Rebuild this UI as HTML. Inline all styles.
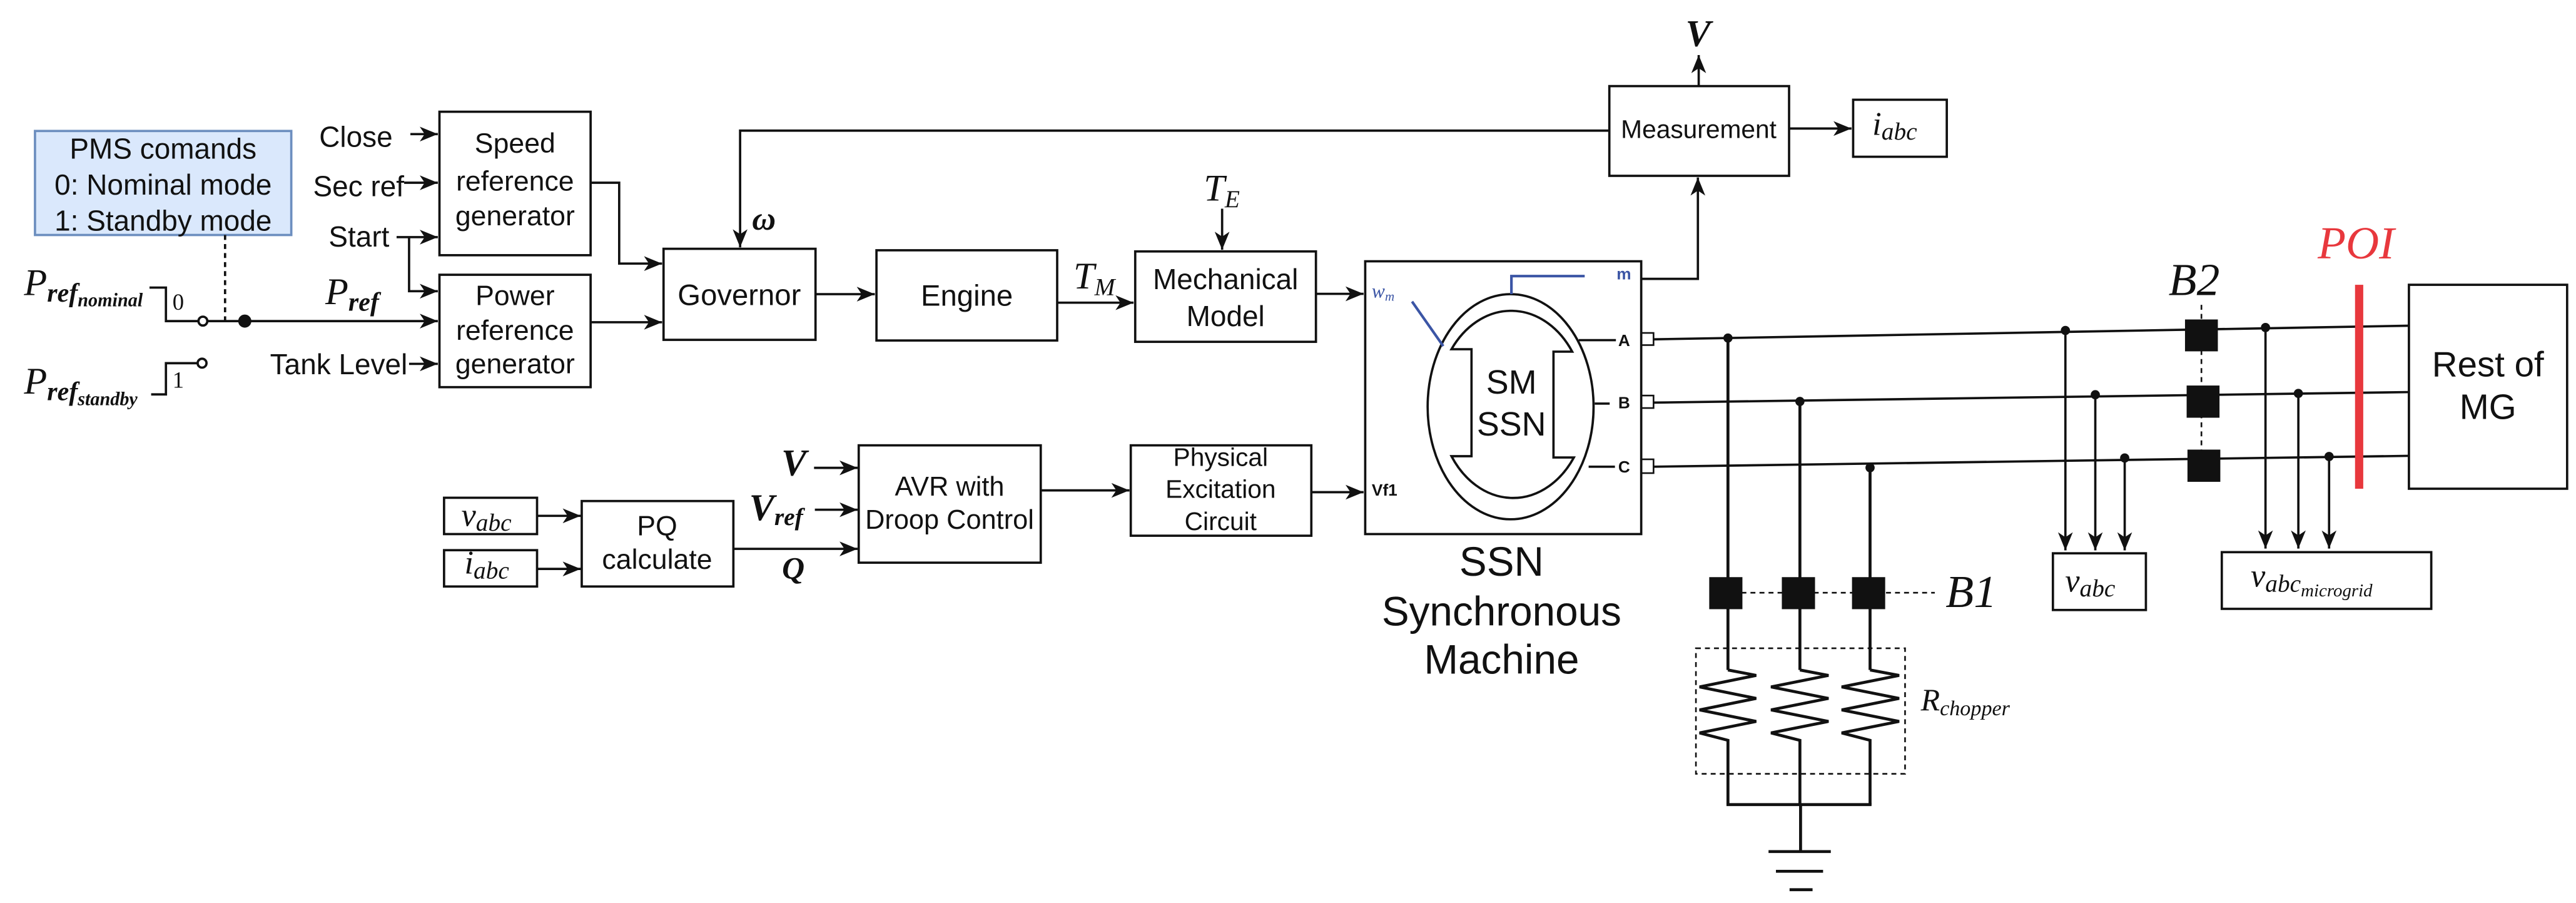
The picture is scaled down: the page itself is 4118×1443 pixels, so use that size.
<!DOCTYPE html>
<html><head><meta charset="utf-8"><style>
html,body{margin:0;padding:0;background:#fff;}
svg{display:block;}
.s{font-family:"Liberation Sans",sans-serif;fill:#111;}
.m{font-family:"Liberation Serif",serif;font-style:italic;fill:#111;}
</style></head><body>
<svg width="4118" height="1443" viewBox="0 0 1568 549.5" preserveAspectRatio="none" xmlns="http://www.w3.org/2000/svg">
<defs>
<marker id="a" markerUnits="userSpaceOnUse" markerWidth="11" markerHeight="9" refX="11" refY="4.5" orient="auto" viewBox="0 0 11 9">
<path d="M0,0 L11,4.5 L0,9 L3,4.5 Z" fill="#111"/></marker>
</defs>
<rect width="1568" height="549.5" fill="#fff"/>
<g stroke="#111" stroke-width="1.4" fill="none">
<rect x="21.3" y="79.7" width="156" height="63.3" fill="#dae8fc" stroke="#6c8ebf"/>
<line x1="137" y1="143" x2="137" y2="195.4" stroke-dasharray="3,2.5"/>
<polyline points="91,175 101,175 101,195.4 120.8,195.4"/>
<circle cx="123.5" cy="195.4" r="2.7" fill="#fff"/>
<line x1="126.2" y1="195.4" x2="266.5" y2="195.4" marker-end="url(#a)"/>
<circle cx="149" cy="195.4" r="3.3" fill="#111"/>
<polyline points="92,240 101,240 101,221 120.3,221"/>
<circle cx="123" cy="221" r="2.7" fill="#fff"/>
<line x1="249.8" y1="81.6" x2="266.5" y2="81.6" marker-end="url(#a)"/>
<line x1="246" y1="111.2" x2="266.5" y2="111.2" marker-end="url(#a)"/>
<line x1="241.4" y1="144.3" x2="266.5" y2="144.3" marker-end="url(#a)"/>
<polyline points="249,144.3 249,177.2 266.5,177.2" marker-end="url(#a)"/>
<line x1="249" y1="221.4" x2="266.5" y2="221.4" marker-end="url(#a)"/>
<rect x="267.5" y="68" width="92" height="87.3"/>
<rect x="267.5" y="167.2" width="92" height="68.4"/>
<polyline points="359.5,111.2 376.9,111.2 376.9,160.4 403,160.4" marker-end="url(#a)"/>
<line x1="359.5" y1="196.1" x2="403" y2="196.1" marker-end="url(#a)"/>
<rect x="403.9" y="151.4" width="92.5" height="55.4"/>
<polyline points="979.6,79.5 450.5,79.5 450.5,150.5" marker-end="url(#a)"/>
<line x1="496.4" y1="179" x2="532.5" y2="179" marker-end="url(#a)"/>
<rect x="533.5" y="152.3" width="110" height="54.9"/>
<line x1="643.5" y1="184.2" x2="690" y2="184.2" marker-end="url(#a)"/>
<rect x="691" y="153" width="110" height="55"/>
<line x1="743.9" y1="127" x2="743.9" y2="152" marker-end="url(#a)"/>
<line x1="801" y1="178.8" x2="830" y2="178.8" marker-end="url(#a)"/>
<rect x="270.3" y="302.9" width="56.6" height="22.1"/>
<rect x="270.3" y="334.8" width="56.6" height="22.1"/>
<line x1="326.9" y1="313.9" x2="353.5" y2="313.9" marker-end="url(#a)"/>
<line x1="326.9" y1="346.2" x2="353.5" y2="346.2" marker-end="url(#a)"/>
<rect x="354.1" y="304.9" width="92.3" height="52"/>
<line x1="446.4" y1="334" x2="522" y2="334" marker-end="url(#a)"/>
<line x1="495.5" y1="284.7" x2="522" y2="284.7" marker-end="url(#a)"/>
<line x1="496" y1="310.2" x2="522" y2="310.2" marker-end="url(#a)"/>
<rect x="522.7" y="271" width="110.8" height="71.4"/>
<line x1="633.5" y1="298.4" x2="687.5" y2="298.4" marker-end="url(#a)"/>
<rect x="688.3" y="271" width="109.9" height="55"/>
<line x1="798.2" y1="299.5" x2="830" y2="299.5" marker-end="url(#a)"/>
<rect x="831" y="159" width="168" height="166"/>
<ellipse cx="919.5" cy="247.5" rx="50.5" ry="68.5"/>
<path d="M883.5 212.5 A45 57 0 0 1 957 214 L945.6 214 L945.6 278.4 L958 278.4 A45 57 0 0 1 883.5 277.6 L895.7 277.6 L895.7 212.5 Z"/>
<line x1="961" y1="207" x2="983.6" y2="207"/>
<line x1="970.7" y1="245.6" x2="979.8" y2="245.6"/>
<line x1="967" y1="284" x2="983" y2="284"/>
<rect x="999" y="202.6" width="7.5" height="7.4" stroke-width="1"/>
<rect x="999" y="240.7" width="7.5" height="7.6" stroke-width="1"/>
<rect x="999" y="279.5" width="7.5" height="8.4" stroke-width="1"/>
<polyline points="999,169.7 1033.5,169.7 1033.5,108" marker-end="url(#a)"/>
<rect x="979.6" y="52.4" width="109.4" height="54.6"/>
<line x1="1034" y1="52.4" x2="1034" y2="33.5" marker-end="url(#a)"/>
<line x1="1089" y1="78.2" x2="1127" y2="78.2" marker-end="url(#a)"/>
<rect x="1128" y="60.7" width="57" height="34.7"/>
<line x1="1006.5" y1="206.5" x2="1466" y2="198.2"/>
<line x1="1006.5" y1="245" x2="1466" y2="238.6"/>
<line x1="1006.5" y1="284" x2="1466" y2="277.4"/>
<g stroke-width="1.8">
<line x1="1051.8" y1="205.7" x2="1051.8" y2="407.7"/>
<line x1="1095.6" y1="244.3" x2="1095.6" y2="407.7"/>
<line x1="1138.3" y1="284.6" x2="1138.3" y2="407.7"/>
<polyline points="1051.8,407.7 1069,411 1034.5,418 1069,425 1034.5,432 1069,439 1034.5,446 1051.8,450.5 1051.8,489.6"/>
<polyline points="1095.6,407.7 1113,411 1078,418 1113,425 1078,432 1113,439 1078,446 1095.6,450.5 1095.6,489.6"/>
<polyline points="1138.3,407.7 1156,411 1121,418 1156,425 1121,432 1156,439 1121,446 1138.3,450.5 1138.3,489.6"/>
<line x1="1050.9" y1="489.6" x2="1139.2" y2="489.6"/>
<line x1="1096" y1="489.6" x2="1096" y2="518.2"/>
<line x1="1076.5" y1="518.2" x2="1114.4" y2="518.2"/>
<line x1="1081" y1="530.2" x2="1109.7" y2="530.2"/>
<line x1="1089.3" y1="541.4" x2="1103.3" y2="541.4"/>
</g>
<line x1="1060" y1="360.7" x2="1177.7" y2="360.7" stroke-dasharray="3,2.5" stroke-width="1"/>
<rect x="1032.3" y="394.5" width="127.3" height="76.4" stroke-dasharray="3,2.5" stroke-width="1"/>
<line x1="1257.2" y1="201.1" x2="1257.2" y2="334.9" marker-end="url(#a)"/>
<line x1="1275.4" y1="240.2" x2="1275.4" y2="334.9" marker-end="url(#a)"/>
<line x1="1293.3" y1="278.7" x2="1293.3" y2="334.9" marker-end="url(#a)"/>
<rect x="1249.6" y="336.7" width="56.6" height="34.5"/>
<line x1="1340" y1="185.5" x2="1340" y2="285" stroke-dasharray="3,2.5" stroke-width="1"/>
<line x1="1379" y1="199.3" x2="1379" y2="333.8" marker-end="url(#a)"/>
<line x1="1399" y1="239.4" x2="1399" y2="333.8" marker-end="url(#a)"/>
<line x1="1417.7" y1="277.8" x2="1417.7" y2="333.8" marker-end="url(#a)"/>
<rect x="1352.4" y="336" width="127.5" height="34.5"/>
<rect x="1466.3" y="173.3" width="96.3" height="124.1"/>
</g>
<g fill="#111">
<circle cx="1051.8" cy="205.7" r="2.8"/><circle cx="1095.6" cy="244.3" r="2.8"/><circle cx="1138.3" cy="284.6" r="2.8"/>
<circle cx="1257.2" cy="201.1" r="2.8"/><circle cx="1275.4" cy="240.2" r="2.8"/><circle cx="1293.3" cy="278.7" r="2.8"/>
<circle cx="1379" cy="199.3" r="2.8"/><circle cx="1399" cy="239.4" r="2.8"/><circle cx="1417.7" cy="277.8" r="2.8"/>
<rect x="1040.4" y="351.2" width="20.2" height="19.5"/><rect x="1084.6" y="351.2" width="20.2" height="19.5"/><rect x="1127.3" y="351.2" width="20.2" height="19.5"/>
<rect x="1330" y="194.4" width="20" height="19.4"/><rect x="1331" y="234.6" width="20" height="19.6"/><rect x="1331.5" y="273.6" width="20" height="19.6"/>
</g>
<rect x="1433.5" y="173.3" width="5" height="124.1" fill="#e8383d"/>
<g stroke="#3b55a5" stroke-width="1.6" fill="none">
<line x1="859.5" y1="183.5" x2="878.5" y2="210.6"/>
<polyline points="920,179 920,168 964.6,168"/>
</g>
<g class="s" text-anchor="middle" font-size="17.5">
<text x="99.3" y="96.6">PMS comands</text>
<text x="99.3" y="118.5">0: Nominal mode</text>
<text x="99.3" y="140.4">1: Standby mode</text>
</g>
<g class="s" text-anchor="end" font-size="17.5">
<text x="239" y="89.3">Close</text>
<text x="246" y="119.4">Sec ref</text>
<text x="237" y="150">Start</text>
<text x="248" y="227.7">Tank Level</text>
</g>
<g class="s" text-anchor="middle" font-size="17">
<text x="313.5" y="93">Speed</text>
<text x="313.5" y="116">reference</text>
<text x="313.5" y="137.1">generator</text>
<text x="313.5" y="185.6">Power</text>
<text x="313.5" y="206.8">reference</text>
<text x="313.5" y="227.2">generator</text>
<text x="450" y="185.6" font-size="18">Governor</text>
<text x="588.5" y="186" font-size="18">Engine</text>
<text x="746" y="176" font-size="17.5">Mechanical</text>
<text x="746" y="198.4" font-size="17.5">Model</text>
<text x="400" y="325.8">PQ</text>
<text x="400" y="346.2">calculate</text>
<text x="578" y="301.6" font-size="16.5">AVR with</text>
<text x="578" y="321.7" font-size="16.5">Droop Control</text>
<text x="743" y="283.6" font-size="15.5">Physical</text>
<text x="743" y="303" font-size="15.5">Excitation</text>
<text x="743" y="322.5" font-size="15.5">Circuit</text>
<text x="1034" y="84" font-size="15.5">Measurement</text>
<text x="920" y="239.5" font-size="20.5">SM</text>
<text x="920" y="265" font-size="20.5">SSN</text>
<text x="914" y="350.4" font-size="25">SSN</text>
<text x="914" y="380.7" font-size="25">Synchronous</text>
<text x="914" y="410" font-size="25">Machine</text>
<text x="1514.4" y="229" font-size="21.5">Rest of</text>
<text x="1514.4" y="255" font-size="21.5">MG</text>
</g>
<g class="s" font-size="10" font-weight="bold">
<text x="985" y="210.5">A</text><text x="985" y="248.5">B</text><text x="985" y="287.5">C</text>
<text x="835" y="301.6">Vf1</text>
<text x="984" y="170" style="fill:#3b55a5">m</text>
</g>
<g class="m">
<text x="14.6" y="179.5" font-size="23">P<tspan font-size="16" dy="4" font-weight="bold">ref</tspan><tspan font-size="11.5" dy="3" font-weight="bold">nominal</tspan></text>
<text x="14.6" y="239.6" font-size="23">P<tspan font-size="16" dy="4" font-weight="bold">ref</tspan><tspan font-size="11.5" dy="3" font-weight="bold">standby</tspan></text>
<text x="105" y="188.5" font-size="14" style="font-style:normal">0</text>
<text x="105" y="236" font-size="14" style="font-style:normal">1</text>
<text x="198" y="185" font-size="23">P<tspan font-size="16" dy="4" font-weight="bold">ref</tspan></text>
<text x="457.8" y="139.7" font-size="20" font-weight="bold">ω</text>
<text x="653.4" y="175.6" font-size="23">T<tspan font-size="15" dy="4">M</tspan></text>
<text x="732.7" y="122" font-size="23">T<tspan font-size="15" dy="4">E</tspan></text>
<text x="1026" y="28" font-size="23" font-weight="bold">V</text>
<text x="475.6" y="289.3" font-size="23" font-weight="bold">V</text>
<text x="456" y="316.5" font-size="23" font-weight="bold">V<tspan font-size="15" dy="3">ref</tspan></text>
<text x="476" y="352" font-size="19" font-weight="bold">Q</text>
<text x="280.8" y="320" font-size="20">v<tspan font-size="15" dy="3">abc</tspan></text>
<text x="282.7" y="349" font-size="20">i<tspan font-size="15" dy="3">abc</tspan></text>
<text x="1139.7" y="82" font-size="20">i<tspan font-size="15" dy="3">abc</tspan></text>
<text x="835" y="181" font-size="12" style="fill:#3b55a5">w<tspan font-size="8" dy="2">m</tspan></text>
<text x="1320" y="179.5" font-size="28">B2</text>
<text x="1184.3" y="369.3" font-size="28">B1</text>
<text x="1410.8" y="157.2" font-size="28" style="fill:#e8383d">POI</text>
<text x="1169.2" y="432.3" font-size="19">R<tspan font-size="13" dy="3">chopper</tspan></text>
<text x="1257" y="360" font-size="20">v<tspan font-size="15" dy="3">abc</tspan></text>
<text x="1370" y="357" font-size="20">v<tspan font-size="15" dy="3">abc</tspan><tspan font-size="11" dy="3">microgrid</tspan></text>
</g>
</svg>
</body></html>
